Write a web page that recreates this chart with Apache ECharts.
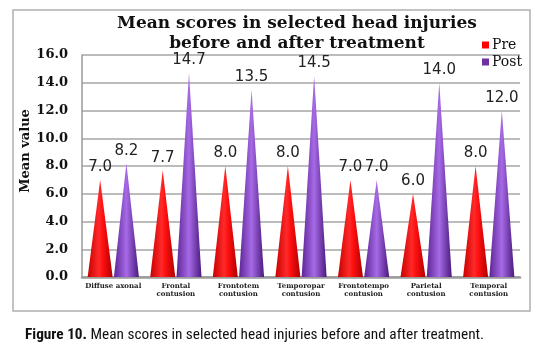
<!DOCTYPE html>
<html>
<head>
<meta charset="utf-8">
<script src="https://cdn.jsdelivr.net/npm/echarts@6/dist/echarts.min.js"></script>
<style>
  html, body { margin: 0; padding: 0; background: #fff; }
  #chart { width: 540px; height: 352px; }
</style>
</head>
<body>
<div id="chart"></div>
<script>
const categories = ['Diffuse axonal', 'Frontal\ncontusion', 'Frontotem\ncontusion', 'Temporopar\ncontusion',
  'Frontotempo\ncontusion', 'Parietal\ncontusion', 'Temporal\ncontusion'];
const preValues = [7.0, 7.7, 8.0, 8.0, 7.0, 6.0, 8.0];
const postValues = [8.2, 14.7, 13.5, 14.5, 7.0, 14.0, 12.0];

const chart = echarts.init(document.getElementById('chart'));

// cone shading
const redCone = new echarts.graphic.LinearGradient(0, 0, 1, 0, [
  { offset: 0, color: '#c80000' },
  { offset: 0.45, color: '#ff2a2a' },
  { offset: 0.6, color: '#ff1010' },
  { offset: 1, color: '#b00000' },
]);
const purpleCone = new echarts.graphic.LinearGradient(0, 0, 1, 0, [
  { offset: 0, color: '#5e2596' },
  { offset: 0.5, color: '#a66ae6' },
  { offset: 1, color: '#4a1a7e' },
]);

const valueLabel = {
  show: true,
  position: 'top',
  distance: 5,
  color: '#222',
  fontFamily: 'DejaVu Sans',
  fontSize: 15,
  formatter: (p) => p.value.toFixed(1),
};

const option = {
  animation: false,
  title: {
    text: 'Mean scores in selected head injuries\nbefore and after treatment',
    left: 292,
    top: 9,
    textAlign: 'center',
    textStyle: {
      fontFamily: 'DejaVu Serif',
      fontWeight: 'bold',
      fontSize: 17,
      lineHeight: 20,
      color: '#111',
    },
  },
  legend: {
    orient: 'vertical',
    left: 477,
    top: 33,
    itemWidth: 7,
    itemHeight: 7,
    itemGap: 3,
    icon: 'rect',
    textStyle: { fontFamily: 'DejaVu Serif', fontSize: 14, color: '#111', padding: [0, 0, 0, -2] },
    data: [
      { name: 'Pre', itemStyle: { color: '#ff0000' } },
      { name: 'Post', itemStyle: { color: '#7030a0' } },
    ],
  },
  grid: { left: 82, right: 20, top: 55, bottom: 75 },
  xAxis: {
    type: 'category',
    data: categories,
    axisTick: { show: false },
    axisLine: { lineStyle: { color: '#9a9a9a', width: 2.5 } },
    axisLabel: {
      interval: 0,
      margin: 5,
      fontFamily: 'DejaVu Serif',
      fontWeight: 'bold',
      fontSize: 7,
      lineHeight: 8,
      color: '#222',
    },
  },
  yAxis: {
    type: 'value',
    min: 0,
    max: 16,
    interval: 2,
    name: 'Mean value',
    nameLocation: 'middle',
    nameGap: 50,
    nameMoveOverlap: false,
    nameTextStyle: { fontFamily: 'DejaVu Serif', fontWeight: 'bold', fontSize: 13, color: '#111', padding: [0, 0, 0, 30] },
    axisLine: { show: true, lineStyle: { color: '#9a9a9a', width: 1.5 } },
    axisTick: { show: false },
    axisLabel: {
      margin: 14,
      fontFamily: 'DejaVu Serif',
      fontWeight: 'bold',
      fontSize: 13,
      color: '#111',
      formatter: (v) => v.toFixed(1),
    },
    splitLine: { lineStyle: { color: '#a6a6a6', width: 1.5 } },
  },
  series: [
    {
      name: 'Pre',
      type: 'pictorialBar',
      symbol: 'triangle',
      barWidth: 25,
      barGap: '5%',
      itemStyle: { color: redCone },
      label: valueLabel,
      data: preValues,
    },
    {
      name: 'Post',
      type: 'pictorialBar',
      symbol: 'triangle',
      barWidth: 25,
      barGap: '5%',
      itemStyle: { color: purpleCone },
      label: valueLabel,
      data: postValues,
    },
  ],
  graphic: [
    {
      type: 'rect',
      shape: { x: 13, y: 10, width: 517, height: 301 },
      style: { fill: 'none', stroke: '#b0b0b0', lineWidth: 1.5 },
      z: -1,
    },
    {
      type: 'text',
      left: 25,
      top: 328,
      style: {
        text: '{b|Figure 10.} Mean scores in selected head injuries before and after treatment.',
        fontFamily: 'Roboto Condensed',
        fontSize: 15.3,
        fill: '#111',
        rich: {
          b: { fontFamily: 'Roboto Condensed', fontWeight: 'bold', fontSize: 15.3, fill: '#111' },
        },
      },
    },
  ],
};

chart.setOption(option);
window.addEventListener('resize', chart.resize);
</script>
</body>
</html>
